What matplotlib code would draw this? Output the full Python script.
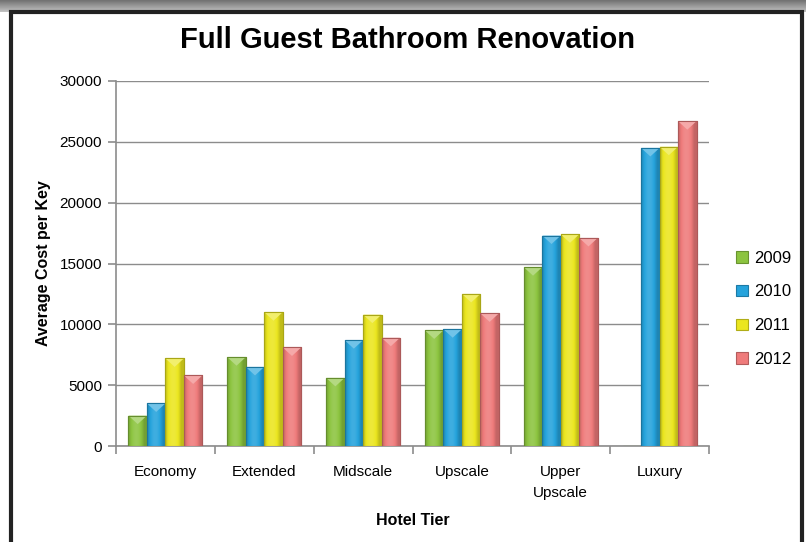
import numpy as np
import matplotlib
matplotlib.use("Agg")
import matplotlib.pyplot as plt
from matplotlib.patches import Rectangle, Polygon
from matplotlib.colors import to_rgb

plt.rcParams['font.family'] = ['Liberation Sans Narrow', 'Liberation Sans', 'DejaVu Sans']

tiers = ["Economy", "Extended", "Midscale", "Upscale", "Upper\nUpscale", "Luxury"]
years = ["2009", "2010", "2011", "2012"]
cost_2009 = [2500, 7300, 5600, 9500, 14700, 0]
cost_2010 = [3500, 6500, 8700, 9600, 17300, 24500]
cost_2011 = [7200, 11000, 10800, 12500, 17400, 24600]
cost_2012 = [5800, 8100, 8900, 10900, 17100, 26700]
series = [cost_2009, cost_2010, cost_2011, cost_2012]
colors = ["#8cc43f", "#25a3dc", "#ebe61f", "#ef7b7b"]


def shade(c, f):
    r = np.array(to_rgb(c))
    if f >= 1:
        return tuple(r + (1 - r) * (f - 1))
    return tuple(r * f)


fig = plt.figure(figsize=(8.06, 5.42), dpi=100)
fig.patch.set_facecolor("white")

# frame around the chart (gray band on top, black border)
bg = fig.add_axes([0, 0, 1, 1], zorder=-5)
bg.set_xlim(0, 806)
bg.set_ylim(542, 0)
bg.axis("off")
grad = np.linspace(0.45, 0.75, 12).reshape(-1, 1)
bg.imshow(grad, cmap="gray", vmin=0, vmax=1, extent=(0, 806, 12, 0), aspect="auto")
bg.add_patch(Rectangle((11, 12), 791, 540, facecolor="white", edgecolor="#222222", lw=3))

ax = fig.add_axes([116 / 806, 1 - 446 / 542, (709 - 116) / 806, (446 - 81) / 542])
x = np.arange(len(tiers))
w = 0.187
ymax = 30000

for i, (vals, col) in enumerate(zip(series, colors)):
    bars = ax.bar(x + (i - 1.5) * w, vals, w, color=col, edgecolor=shade(col, 0.75),
                  linewidth=0.8, label=years[i], zorder=3)
    for b in bars:
        h = b.get_height()
        if h <= 0:
            continue
        x0 = b.get_x()
        x1 = x0 + b.get_width()
        t = np.linspace(0, 1, 40)
        prof = 0.82 + 0.3 * np.sin(np.pi * np.clip(t * 1.15, 0, 1))
        img = np.array([[shade(col, f) for f in prof]])
        im = ax.imshow(img, extent=(x0, x1, 0, h), aspect="auto", zorder=3.1)
        im.set_clip_path(b)
        depth = 700
        xc = (x0 + x1) / 2
        ax.add_patch(Polygon([(x0, h), (x1, h), (xc, h - depth)], closed=True,
                             facecolor=shade(col, 1.35), edgecolor="none", zorder=3.2))
        ax.add_patch(Rectangle((x0, 0), x1 - x0, h, fill=False,
                               edgecolor=shade(col, 0.72), lw=0.8, zorder=3.3))

ax.set_xlim(-0.5, len(tiers) - 0.5)
ax.set_ylim(0, ymax)
ax.set_yticks(range(0, 30001, 5000))
ax.yaxis.grid(True, color="#8c8c8c", lw=1.0, zorder=0)
ax.set_axisbelow(True)

ax.set_xticks(x)
ax.set_xticklabels(tiers, fontsize=11, linespacing=1.6)
ax.set_xticks(np.arange(-0.5, len(tiers), 1), minor=True)
ax.tick_params(axis="x", which="major", length=0, pad=14)
ax.tick_params(axis="x", which="minor", length=6, color="#8c8c8c", width=1.2)
ax.tick_params(axis="y", length=6, color="#8c8c8c", width=1.2, labelsize=11, pad=4)

for s in ["top", "right"]:
    ax.spines[s].set_visible(False)
for s in ["left", "bottom"]:
    ax.spines[s].set_color("#8c8c8c")
    ax.spines[s].set_linewidth(1.2)

ax.set_xlabel("Hotel Tier", fontsize=11.5, fontweight="bold", labelpad=9)
ax.set_ylabel("Average Cost per Key", fontsize=11.5, fontweight="bold", labelpad=6)
fig.text(407 / 806, 1 - 40 / 542, "Full Guest Bathroom Renovation", fontsize=21,
         fontweight="bold", ha="center", va="center")

handles, labels = ax.get_legend_handles_labels()
leg = ax.legend(handles, labels, loc="center left", bbox_to_anchor=(1.02, 0.376),
                frameon=False, fontsize=12, handlelength=0.7, handleheight=0.7,
                labelspacing=1.13, handletextpad=0.4)

fig.savefig("out.png", dpi=100, facecolor=fig.get_facecolor())
